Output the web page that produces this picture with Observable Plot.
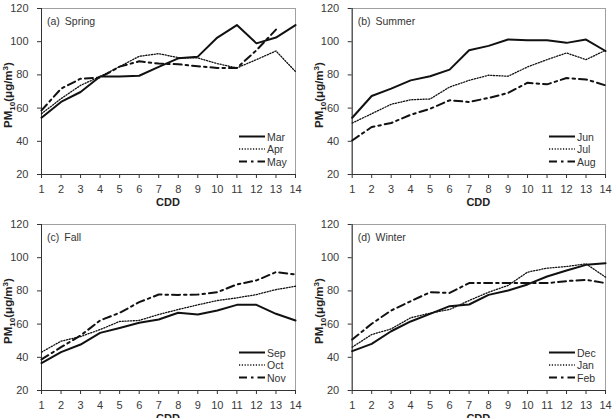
<!DOCTYPE html>
<html>
<head>
<meta charset="utf-8">
<script src="https://cdn.jsdelivr.net/npm/d3@7"></script>
<script src="https://cdn.jsdelivr.net/npm/@observablehq/plot@0.6"></script>
<style>
  body { margin: 0; background: #fff; }
  #chart { position: relative; width: 613px; height: 418px; overflow: hidden; background: #fff; }
  .panel { position: absolute; }
</style>
</head>
<body>
<div id="chart"></div>
<script>
// Consecutive dusty days (CDD) and the PM10 concentration for each month
const cdd = [1, 2, 3, 4, 5, 6, 7, 8, 9, 10, 11, 12, 13, 14];
const yTicks = [20, 40, 60, 80, 100, 120];

// Spring
const mar = [54.2, 63.7, 69.7, 79, 79, 79.5, 84.8, 90, 91, 102.5, 110, 99, 102.5, 110];
const apr = [56.6, 65.7, 73.7, 79, 85, 91.2, 92.8, 90.4, 90.2, 86.8, 84.2, 89.2, 94.4, 82];
const may = [58.6, 71.7, 77.7, 78.4, 85, 88.2, 86.8, 86.4, 85.2, 84.2, 84.2, 94.8, 107.3];
// Summer
const jun = [54.2, 67.3, 71.7, 76.7, 79.2, 83.2, 94.8, 97.5, 101.3, 100.9, 100.9, 99.3, 101.3, 94.4];
const jul = [51, 56.6, 62.3, 65, 65.5, 72.7, 76.7, 79.8, 79.2, 84.8, 89.2, 93.2, 89.2, 94.8];
const aug = [40.5, 48.6, 51, 56, 59.6, 64.7, 63.7, 66.1, 69.1, 75.3, 74.3, 78.1, 77.3, 73.7];
// Fall
const sep = [36.5, 43.1, 47.7, 54.7, 57.7, 60.8, 62.8, 66.8, 65.8, 68.2, 71.6, 71.6, 66.2, 62.2];
const oct = [43.1, 49.7, 52.5, 56.7, 61.6, 62.2, 65.8, 68.8, 71.6, 74.2, 75.8, 77.8, 80.8, 82.8];
const nov = [38.7, 46.1, 53.1, 62.2, 66.8, 73.2, 77.8, 77.6, 77.8, 79.2, 83.9, 86.3, 91.3, 89.9];
// Winter
const dec = [43.7, 48.1, 55.7, 61.6, 66.2, 70.8, 71.8, 77.6, 80.2, 83.9, 88.7, 92.3, 95.7, 96.7];
const jan = [46.1, 53.7, 57.1, 63.8, 66.6, 68.8, 74.2, 79.2, 83.3, 91.3, 93.7, 94.7, 96.3, 88.3];
const feb = [50.7, 60.2, 68.2, 73.8, 79.2, 78.8, 84.7, 84.7, 84.7, 84.7, 84.7, 85.9, 86.7, 84.7];

const panelTags = ["(a)", "(b)", "(c)", "(d)"];
const panelSeasons = ["Spring", "Summer", "Fall", "Winter"];
const monthNames = [["Mar", "Apr", "May"], ["Jun", "Jul", "Aug"], ["Sep", "Oct", "Nov"], ["Dec", "Jan", "Feb"]];
const monthValues = [[mar, apr, may], [jun, jul, aug], [sep, oct, nov], [dec, jan, feb]];

const xLabel = "CDD";

// solid, dotted, dash-dot
const lineStyles = [
  { strokeWidth: 2, strokeDasharray: null },
  { strokeWidth: 1.3, strokeDasharray: "1.2,1.6" },
  { strokeWidth: 2, strokeDasharray: "8,4,2.5,4" }
];

const font = "'Liberation Sans', Arial, sans-serif";

const layouts = [
  { left: 0,   top: 0,   width: 306, height: 210, mt: 8,  mb: 36, ml: 41,   mr: 11 },
  { left: 306, top: 0,   width: 307, height: 210, mt: 8,  mb: 36, ml: 45.7, mr: 8 },
  { left: 0,   top: 210, width: 306, height: 218, mt: 14, mb: 38, ml: 41,   mr: 11 },
  { left: 306, top: 210, width: 307, height: 218, mt: 14, mb: 38, ml: 45.7, mr: 8 }
];

const root = d3.select("#chart");

layouts.forEach((L, p) => {
  const series = monthNames[p].map((name, k) => ({
    name,
    rows: monthValues[p][k].map((v, i) => ({ cdd: cdd[i], pm: v })),
    style: lineStyles[k]
  }));

  const plot = Plot.plot({
    width: L.width,
    height: L.height,
    marginTop: L.mt,
    marginBottom: L.mb,
    marginLeft: L.ml,
    marginRight: L.mr,
    style: { fontFamily: font, fontSize: "11px", color: "#3a3a3a", background: "transparent", overflow: "visible" },
    x: { domain: [cdd[0], cdd[cdd.length - 1]] },
    y: { domain: [yTicks[0], yTicks[yTicks.length - 1]] },
    marks: [
      Plot.frame({ stroke: "#a0a0a0" }),
      Plot.axisX({ ticks: cdd, tickSize: 4, tickPadding: 7, label: null, stroke: "#333" }),
      Plot.axisY({ ticks: yTicks, tickSize: 4, tickPadding: 9, label: null, stroke: "#333" }),
      Plot.ruleY([yTicks[0]], { stroke: "#333" }),
      Plot.ruleX([cdd[0]], { stroke: "#333" }),
      ...series.map(s => Plot.line(s.rows, {
        x: "cdd", y: "pm", stroke: "#111",
        strokeWidth: s.style.strokeWidth,
        strokeDasharray: s.style.strokeDasharray
      }))
    ]
  });

  const div = root.append("div").attr("class", "panel")
    .style("left", L.left + "px").style("top", L.top + "px");
  div.node().appendChild(plot);

  const svg = d3.select(plot);
  const [x0, x1] = plot.scale("x").range;
  const [y0, y1] = plot.scale("y").range; // y0 bottom, y1 top

  // panel title
  const tt = svg.append("text")
    .attr("x", x0 + 6).attr("y", y1 + 17)
    .attr("text-anchor", "start")
    .attr("font-family", font).attr("font-size", 10.5).attr("fill", "#333");
  tt.append("tspan").text(panelTags[p]);
  tt.append("tspan").attr("dx", 5).text(panelSeasons[p]);

  // x axis title
  svg.append("text")
    .attr("x", (x0 + x1) / 2).attr("y", y0 + 32)
    .attr("text-anchor", "middle")
    .attr("font-family", font).attr("font-size", 11).attr("font-weight", "bold").attr("fill", "#222")
    .text(xLabel);

  // y axis title: PM10(μg/m3)
  const yt = svg.append("text")
    .attr("transform", `translate(${x0 - 29},${(y0 + y1) / 2 + 4}) rotate(-90)`)
    .attr("text-anchor", "middle")
    .attr("font-family", font).attr("font-size", 11.5).attr("font-weight", "bold").attr("fill", "#222");
  yt.append("tspan").text("PM");
  yt.append("tspan").attr("font-size", 8).attr("dy", 3).text("10");
  yt.append("tspan").attr("dy", -3).text("(μg/m");
  yt.append("tspan").attr("font-size", 8).attr("dy", -4).text("3");
  yt.append("tspan").attr("dy", 4).text(")");

  // legend
  const lg = svg.append("g");
  series.forEach((s, k) => {
    const yy = y0 - 37.5 + k * 12.5;
    lg.append("line")
      .attr("x1", x1 - 56).attr("x2", x1 - 30)
      .attr("y1", yy).attr("y2", yy)
      .attr("stroke", "#111")
      .attr("stroke-width", s.style.strokeWidth)
      .attr("stroke-dasharray", s.style.strokeDasharray);
    lg.append("text")
      .attr("x", x1 - 28).attr("y", yy + 4)
      .attr("text-anchor", "start")
      .attr("font-family", font).attr("font-size", 10.5).attr("fill", "#333")
      .text(s.name);
  });
});
</script>
</body>
</html>
